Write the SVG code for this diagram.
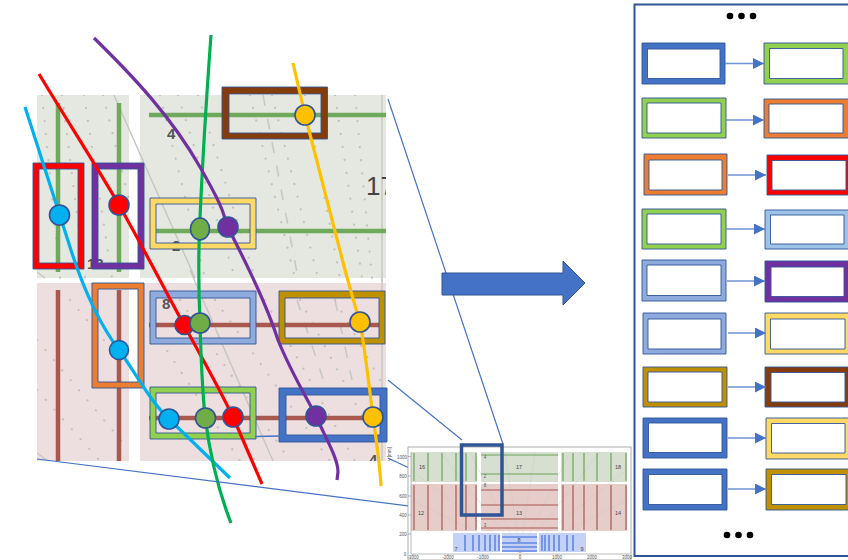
<svg xmlns="http://www.w3.org/2000/svg" width="848" height="560" viewBox="0 0 848 560">
<style>
.f{fill:none;stroke:#2f5597;stroke-width:2}
.box{fill-rule:evenodd;stroke:#2f5597;stroke-width:.9}
.brown{fill:#843c0c}.red{fill:#ff0000}.purple{fill:#7030a0}.yellow{fill:#ffd966}.orange{fill:#ed7d31}.lb{fill:#8faadc}.sky{fill:#9dc3e6}.gold{fill:#bf9000}.lg{fill:#92d050}.blue{fill:#4472c4}
.dots{fill:none;stroke:#c2c2bc;stroke-width:2.2;stroke-linecap:round;stroke-dasharray:.1 13}
.dash{fill:none;stroke:#c8c8c2;stroke-width:1.6;stroke-dasharray:11 13}
.gl{stroke:#6fa95c;stroke-width:4.5;fill:none}
.rl{stroke:#a9584f;stroke-width:4.5;fill:none}
.curve{fill:none;stroke-linejoin:round;stroke-width:3.2}
.pin{stroke:#2f5597;stroke-width:1.6}
.thin{fill:none;stroke:#4472c4;stroke-width:1.2}
.arr{fill:none;stroke:#6f93d3;stroke-width:1.3}
.lbl{font-family:"Liberation Sans",Arial,sans-serif;font-weight:700;fill:#555}
.m{font-family:"Liberation Sans",Arial,sans-serif;font-size:5.5px;fill:#444;text-anchor:middle}
.t{font-family:"Liberation Sans",Arial,sans-serif;font-size:4.5px;fill:#555;text-anchor:middle}
.mg{stroke:#6aa457;stroke-width:1.2;fill:none}
.mr{stroke:#a9584f;stroke-width:1.2;fill:none}
.mb{stroke:#3264e0;stroke-width:1.1;fill:none}
.fan{stroke:#c4c4c4;stroke-width:.35;fill:none}
.dot{fill:#000}
</style>
<defs>
<clipPath id="zoomclip"><rect x="37" y="95" width="349" height="366"/></clipPath>
<marker id="head" markerWidth="12" markerHeight="11" refX="11" refY="5.5" orient="auto" markerUnits="userSpaceOnUse"><path d="M0 0L11 5.5L0 11Z" fill="#4472c4"/></marker>
</defs>

<g id="zoomed-chart" clip-path="url(#zoomclip)">
<rect x="37" y="95" width="92" height="183" fill="#e5e8e0"/>
<rect x="140" y="95" width="246" height="183" fill="#e5e8e0"/>
<rect x="37" y="283" width="92" height="178" fill="#eddfdf"/>
<rect x="140" y="283" width="246" height="178" fill="#eddfdf"/>
<path class="dots" d="M42 95L60 278M62 95L85 278M84 95L112 278M103 95L129 200M160 95L205 278M178 95L235 278M198 95L255 278M250 95L295 278M272 95L318 278M305 95L340 278M335 95L362 278M355 95L372 278"/>
<path class="dots" d="M37 340L129 450M37 390L100 461M70 300L129 370M160 340L240 461M180 300L290 461M215 300L330 461M265 300L355 461M300 300L375 440M335 300L386 390"/>
<path class="dash" d="M263 95L298 278M297 300L325 385M335 300L352 380"/>
<path d="M113 93L195 278M190 270L273 461M37 272L45 278M37 453L48 461" stroke="#c6c6c0" stroke-width="1.4" fill="none"/>
<path d="M382 95V461" stroke="#cfcfc8" stroke-width="2"/>
<path class="gl" d="M58 103V272M119 103V272M149 115H386M156 231H386"/>
<path class="rl" d="M58 290V461M119 290V461M149 325H385M149 418H385"/>
<text class="lbl" x="167" y="139" font-size="15">4</text>
<text class="lbl" x="172" y="251" font-size="15">2</text>
<text class="lbl" x="87" y="269" font-size="15">13</text>
<text class="lbl" x="162" y="309" font-size="15">8</text>
<text class="lbl" x="369" y="465" font-size="15">4</text>
<text x="366" y="195" font-size="26" font-family="'Liberation Sans',Arial,sans-serif" fill="#444">17</text>
</g>

<g id="n-brown"><path class="box brown" d="M222 87H327.500V139H222ZM229 94V133H321V94Z"/></g>
<g id="n-red"><path class="box red" d="M33 163H84V269H33ZM39 169V263H78V169Z"/></g>
<g id="n-purple"><path class="box purple" d="M92 163H144V269H92ZM98 169V263H138V169Z"/></g>
<g id="n-yellow"><path class="box yellow" d="M150 198H256V249H150ZM156 204V243H250V204Z"/></g>
<g id="n-orange"><path class="box orange" d="M92 283H144V388H92ZM98 289V382H138V289Z"/></g>
<g id="n-lightblue"><path class="box lb" d="M150 291H256V344H150ZM156 298V338H250V298Z"/></g>
<g id="n-gold"><path class="box gold" d="M279 291H385V344H279ZM285 298V338H379V298Z"/></g>
<g id="n-lightgreen"><path class="box lg" d="M150 387H256V439H150ZM156 393V433H250V393Z"/></g>
<g id="n-blue"><path class="box blue" d="M279 388H387V442H279ZM286 395V435H380V395Z"/></g>

<g id="connectors">
<path d="M255 436.500L280 436" stroke="#4472c4" stroke-width="1.600" fill="none"/>
<path class="curve" stroke="#00b0f0" d="M25 107L70 247C82 285 98 322 119 350C135 372 150 401 169 419L230 478"/>
<path class="curve" stroke="#ff0000" d="M39 74C70 125 100 172 119 205S165 290 184 325S215 380 233 417L262 484"/>
<path class="curve" stroke="#00b050" d="M211 35C207 90 202 170 199.500 230C198 270 199 300 200 323C201 360 202 385 205 417C210 455 218 490 231 523"/>
<path class="curve" stroke="#7030a0" d="M94 38C135 78 172 118 200 167S222 213 228 227S262 290 278 340C290 370 305 395 316 416C325 437 338 458 338 472L337 480"/>
<path class="curve" stroke="#ffc000" d="M293 63L305 115L345 270C352 295 356 310 360 322C365 350 369 385 373 417C377 445 380 465 381 486"/>
<path class="thin" d="M388 99L503 444M388 380L462 440M37 459L480 515M388 458L502 512"/>
</g>

<g id="pins" class="pin">
<circle cx="59.500" cy="215" r="10" fill="#00b0f0"/>
<circle cx="119" cy="205" r="10" fill="#ff0000"/>
<ellipse cx="200" cy="229" rx="9.500" ry="11" fill="#70ad47"/>
<circle cx="228" cy="227" r="10" fill="#7030a0"/>
<circle cx="305" cy="115" r="10" fill="#ffc000"/>
<circle cx="184.500" cy="325" r="9.500" fill="#ff0000"/>
<circle cx="200" cy="323" r="10" fill="#70ad47"/>
<circle cx="119" cy="350" r="9.500" fill="#00b0f0"/>
<circle cx="360" cy="322" r="10" fill="#ffc000"/>
<circle cx="169" cy="419" r="10" fill="#00b0f0"/>
<circle cx="205.500" cy="418" r="10" fill="#70ad47"/>
<circle cx="233" cy="417" r="10" fill="#ff0000"/>
<circle cx="316" cy="416" r="10" fill="#7030a0"/>
<circle cx="373" cy="417" r="10" fill="#ffc000"/>
</g>

<g id="mini-chart">
<rect x="408" y="447" width="223" height="113" fill="#fff" stroke="#999" stroke-width=".8"/>
<rect x="411" y="452" width="66" height="30" fill="#d7dfd1"/>
<rect x="481" y="452" width="77" height="30" fill="#d7dfd1"/>
<rect x="561" y="452" width="66" height="30" fill="#d7dfd1"/>
<rect x="411" y="484" width="66" height="47" fill="#e6cdca"/>
<rect x="481" y="484" width="77" height="47" fill="#e6cdca"/>
<rect x="561" y="484" width="66" height="47" fill="#e6cdca"/>
<rect x="453" y="533" width="47" height="19" fill="#c3d2f6"/>
<rect x="502" y="533" width="35" height="19" fill="#c3d2f6"/>
<rect x="539" y="533" width="47" height="19" fill="#c3d2f6"/>
<path class="fan" d="M520 553L411 470M520 553L411 500M520 553L440 452M520 553L470 452M520 553L505 452M520 553L535 452M520 553L570 452M520 553L600 452M520 553L627 470M520 553L627 500"/>
<path class="mg" d="M414 453V481M428 453V481M442 453V481M456 453V481M466 453V481M476 453V481M563 453V481M573 453V481M584 453V481M597 453V481M611 453V481M626 453V481M481 474H558"/>
<path class="mg" stroke-width="2" d="M481 455H558"/>
<path class="mr" d="M414 485V530M428 485V530M442 485V530M456 485V530M466 485V530M476 485V530M563 485V530M573 485V530M584 485V530M597 485V530M611 485V530M626 485V530M481 490H558M481 505H558M481 519H558M481 528H558"/>
<path class="mb" d="M465 535V551M473 535V551M479 535V551M485 535V551M490 535V551M495 535V551M499 535V551M542 535V551M545 535V551M549 535V551M554 535V551M559 535V551M567 535V551M573 535V551M502 537H537M502 543H537M502 547H537M502 551H537"/>
<path d="M411 452V554H630M408 456.500H411M408 476H411M408 496H411M408 515H411M408 534H411M413 554V556M448 554V556M483 554V556M520 554V556M557 554V556M592 554V556M627 554V556" stroke="#777" stroke-width=".5" fill="none"/>
<g class="m-labels">
<text class="m" x="422" y="469">16</text><text class="m" x="519" y="469">17</text><text class="m" x="618" y="469">18</text>
<text class="m" x="421" y="515">12</text><text class="m" x="519" y="515">13</text><text class="m" x="618" y="515">14</text>
<text class="m" x="519" y="542">8</text><text class="m" x="456" y="551">7</text><text class="m" x="582" y="551">9</text>
<text class="t" x="485" y="459">4</text><text class="t" x="485" y="478">2</text><text class="t" x="485" y="487">8</text><text class="t" x="485" y="527">3</text>
</g>
<g class="ticks">
<text class="t" x="413" y="559">-3000</text><text class="t" x="448" y="559">-2000</text><text class="t" x="483" y="559">-1000</text><text class="t" x="520" y="559">0</text><text class="t" x="557" y="559">1000</text><text class="t" x="592" y="559">2000</text><text class="t" x="627" y="559">3000</text>
<text class="t" x="402" y="458.500">1000</text><text class="t" x="403" y="478">800</text><text class="t" x="403" y="498">600</text><text class="t" x="403" y="517">400</text><text class="t" x="403" y="536">200</text><text class="t" x="405" y="556">0</text>
<text class="t" transform="translate(391 454) rotate(-90)">y [mm]</text>
</g>
<rect x="461.500" y="445" width="40.500" height="70" fill="none" stroke="#2f5597" stroke-width="3.500"/>
</g>

<g id="big-arrow"><path d="M442 273H563V261L585 283L563 305V295H442Z" fill="#4472c4" stroke="#2f5597" stroke-width="1"/></g>

<g id="panel">
<rect class="f" x="634.500" y="4.500" width="230" height="551.500"/>
<circle class="dot" cx="730" cy="16" r="3.300"/><circle class="dot" cx="741.500" cy="16" r="3.300"/><circle class="dot" cx="753" cy="16" r="3.300"/>
<circle class="dot" cx="727" cy="535" r="3.300"/><circle class="dot" cx="738.500" cy="535" r="3.300"/><circle class="dot" cx="750" cy="535" r="3.300"/>
</g>

<g id="l1"><path class="box blue" d="M642 43H725V84H642ZM647.500 49V78.500H720V49Z"/></g>
<g id="l2"><path class="box lg" d="M642 98H726V138H642ZM647 103V133H721V103Z"/></g>
<g id="l3"><path class="box orange" d="M644 154H727V195H644ZM649 160V190H722V160Z"/></g>
<g id="l4"><path class="box lg" d="M642 209H726V249H642ZM647 214V244H721V214Z"/></g>
<g id="l5"><path class="box lb" d="M642 260H726V301H642ZM647 265V295.500H721V265Z"/></g>
<g id="l6"><path class="box lb" d="M643 313H726V354H643ZM648 319V349H721V319Z"/></g>
<g id="l7"><path class="box gold" d="M643 367H727V407H643ZM648 372V402H722V372Z"/></g>
<g id="l8"><path class="box blue" d="M643 418H727V458H643ZM648.500 423V452.500H722V423Z"/></g>
<g id="l9"><path class="box blue" d="M643 469H727V510H643ZM648.500 474.500V504.500H722V474.500Z"/></g>

<g id="r1"><path class="box lg" d="M764 43H860V84H764ZM769.500 48.500V78.500H843V48.500Z"/></g>
<g id="r2"><path class="box orange" d="M764 99H860V138H764ZM769 104V133H843V104Z"/></g>
<g id="r3"><path class="box red" d="M767 155H860V195H767ZM772 160.500V190H846V160.500Z"/></g>
<g id="r4"><path class="box sky" d="M765 210H860V249H765ZM770.500 215V244H844V215Z"/></g>
<g id="r5"><path class="box purple" d="M765 261H860V302H765ZM771 267V296.500H844V267Z"/></g>
<g id="r6"><path class="box yellow" d="M765 313H860V354H765ZM770.500 319V349H845V319Z"/></g>
<g id="r7"><path class="box brown" d="M765 367H860V407H765ZM771 372.500V402H845V372.500Z"/></g>
<g id="r8"><path class="box yellow" d="M766 418H860V459H766ZM771.500 423.500V453H845V423.500Z"/></g>
<g id="r9"><path class="box gold" d="M766 469H860V510H766ZM771.500 474.500V504.500H846V474.500Z"/></g>

<g id="panel-connectors">
<path class="arr" marker-end="url(#head)" d="M725 63.500H764"/>
<path class="arr" marker-end="url(#head)" d="M726 120H764"/>
<path class="arr" marker-end="url(#head)" d="M728 175H766"/>
<path class="arr" marker-end="url(#head)" d="M726 229H765"/>
<path class="arr" marker-end="url(#head)" d="M727 281H765"/>
<path class="arr" marker-end="url(#head)" d="M728 333H766"/>
<path class="arr" marker-end="url(#head)" d="M728 387H766"/>
<path class="arr" marker-end="url(#head)" d="M728 438H766"/>
<path class="arr" marker-end="url(#head)" d="M728 489H766"/>
</g>
</svg>
